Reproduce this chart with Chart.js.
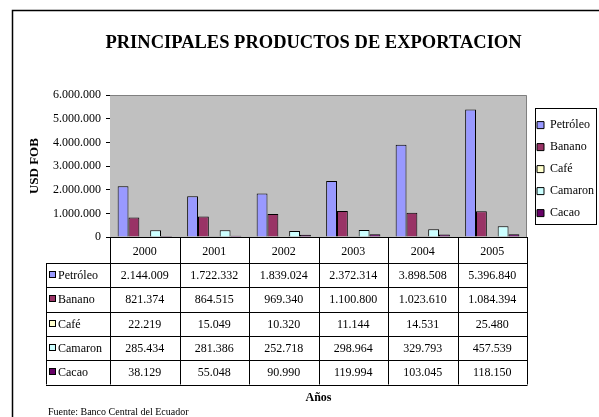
<!DOCTYPE html>
<html>
<head>
<meta charset="utf-8">
<script src="https://cdn.jsdelivr.net/npm/chart.js@4.4.1/dist/chart.umd.min.js"></script>
<style>
  html, body { margin: 0; padding: 0; background: #fff; }
  #wrap { width: 599px; height: 417px; }
</style>
</head>
<body>
<div id="wrap"><canvas id="myChart" width="599" height="417"></canvas></div>
<script>
const years = ['2000', '2001', '2002', '2003', '2004', '2005'];
const petroleo = [2144009, 1722332, 1839024, 2372314, 3898508, 5396840];
const banano = [821374, 864515, 969340, 1100800, 1023610, 1084394];
const cafe = [22219, 15049, 10320, 11144, 14531, 25480];
const camaron = [285434, 281386, 252718, 298964, 329793, 457539];
const cacao = [38129, 55048, 90990, 119994, 103045, 118150];
const yMax = 6000000;
const yStep = 1000000;

const serif = '"Liberation Serif", "Times New Roman", serif';
Chart.defaults.font.family = serif;
Chart.defaults.color = '#000';

// 2144009 -> 2.144.009
function formatNumber(n) {
  return String(n).replace(/\B(?=(\d{3})+(?!\d))/g, '.');
}

// grey plot, data table under the axis, legend frame, outer border
const excelFrame = {
  id: 'excelFrame',
  beforeDatasetsDraw(chart) {
    const { ctx, chartArea: a } = chart;
    ctx.save();
    ctx.fillStyle = '#c0c0c0';
    ctx.fillRect(a.left, a.top, a.right - a.left, a.bottom - a.top);
    ctx.strokeStyle = '#808080';
    ctx.lineWidth = 1;
    ctx.beginPath();
    ctx.moveTo(a.left, Math.round(a.top) + 0.5);
    ctx.lineTo(Math.round(a.right) - 0.5, Math.round(a.top) + 0.5);
    ctx.lineTo(Math.round(a.right) - 0.5, a.bottom);
    ctx.stroke();
    ctx.restore();
  },
  afterDraw(chart) {
    const ctx = chart.ctx;
    const x = chart.scales.x;
    const sets = chart.data.datasets;
    const colW = (x.right - x.left) / years.length;
    const headTop = chart.chartArea.bottom;
    const headBottom = headTop + 26;
    const rowH = 24.3;
    const tableLeft = 46;
    const tableBottom = headBottom + rowH * sets.length;

    ctx.save();
    ctx.strokeStyle = '#000';
    ctx.lineWidth = 1;
    ctx.beginPath();
    for (let j = 0; j <= years.length; j++) {
      const px = Math.round(x.left + j * colW) + 0.5;
      ctx.moveTo(px, headTop);
      ctx.lineTo(px, tableBottom);
    }
    ctx.moveTo(tableLeft + 0.5, headBottom);
    ctx.lineTo(tableLeft + 0.5, tableBottom);
    for (let i = 0; i <= sets.length; i++) {
      const py = Math.round(headBottom + i * rowH) + 0.5;
      ctx.moveTo(tableLeft, py);
      ctx.lineTo(x.right + 0.5, py);
    }
    ctx.stroke();

    ctx.font = '12px ' + serif;
    ctx.textBaseline = 'middle';
    sets.forEach((ds, i) => {
      const cy = Math.round(headBottom + i * rowH + rowH / 2);
      ctx.fillStyle = ds.backgroundColor;
      ctx.fillRect(49, cy - 4, 7, 7);
      ctx.strokeRect(49.5, cy - 3.5, 6, 6);
      ctx.fillStyle = '#000';
      ctx.textAlign = 'left';
      ctx.fillText(ds.label, 58, cy + 1);
      ctx.textAlign = 'center';
      ds.data.forEach((v, j) => {
        ctx.fillText(formatNumber(v), x.getPixelForValue(j), cy + 1);
      });
    });

    // box around the legend
    const lg = chart.legend;
    ctx.strokeRect(Math.round(lg.left) + 8.5, 108.5, 597 - Math.round(lg.left) - 9, 116);

    // page border
    ctx.lineWidth = 1.5;
    ctx.strokeRect(12.5, 10.5, 1000, 1000);

    ctx.font = '10px ' + serif;
    ctx.textAlign = 'left';
    ctx.textBaseline = 'top';
    ctx.fillText('Fuente: Banco Central del Ecuador', 48, 407);
    ctx.restore();
  }
};

const data = {
  labels: years,
  datasets: [
    { label: 'Petróleo', data: petroleo, backgroundColor: '#9999ff' },
    { label: 'Banano', data: banano, backgroundColor: '#993366' },
    { label: 'Café', data: cafe, backgroundColor: '#ffffcc' },
    { label: 'Camaron', data: camaron, backgroundColor: '#ccffff' },
    { label: 'Cacao', data: cacao, backgroundColor: '#660066' }
  ]
};
data.datasets.forEach(ds => {
  ds.borderColor = '#000';
  ds.borderWidth = 1;
  ds.categoryPercentage = 0.78;
  ds.barPercentage = 1;
});

const config = {
  type: 'bar',
  data,
  plugins: [excelFrame],
  options: {
    responsive: false,
    animation: false,
    layout: {
      padding: { left: 23, right: -5, top: 0, bottom: 0 }
    },
    plugins: {
      title: {
        display: true,
        text: 'PRINCIPALES PRODUCTOS DE EXPORTACION',
        font: { size: 18.5, weight: 'bold' },
        padding: { top: 32, bottom: 41 }
      },
      legend: {
        position: 'right',
        fullSize: false,
        // empty title only nudges the items down a little
        title: {
          display: true,
          text: ' ',
          font: { size: 1, lineHeight: 1 },
          padding: { top: 5, bottom: 0 }
        },
        labels: {
          boxWidth: 7,
          boxHeight: 7,
          padding: 10,
          font: { size: 12 }
        }
      },
      tooltip: { enabled: false }
    },
    scales: {
      x: {
        grid: { display: false },
        border: { color: '#000' },
        ticks: { font: { size: 12 }, padding: 0, maxRotation: 0 },
        title: {
          display: true,
          text: 'Años',
          font: { size: 12, weight: 'bold' },
          padding: { top: 4, bottom: 12 }
        },
        afterFit(scale) { scale.height = 180; }
      },
      y: {
        min: 0,
        max: yMax,
        grid: {
          color: c => (c.tick && c.tick.value === yMax ? 'rgba(0,0,0,0)' : '#000'),
          tickColor: '#000',
          tickLength: 4
        },
        border: { color: '#000' },
        ticks: {
          stepSize: yStep,
          padding: 5,
          font: { size: 12 },
          callback: value => formatNumber(value)
        },
        title: {
          display: true,
          text: 'USD FOB',
          font: { size: 13, weight: 'bold' },
          padding: { top: 4, bottom: 4 }
        },
        afterFit(scale) { scale.width = 87; }
      }
    }
  }
};

const myChart = new Chart(document.getElementById('myChart'), config);
</script>
</body>
</html>
